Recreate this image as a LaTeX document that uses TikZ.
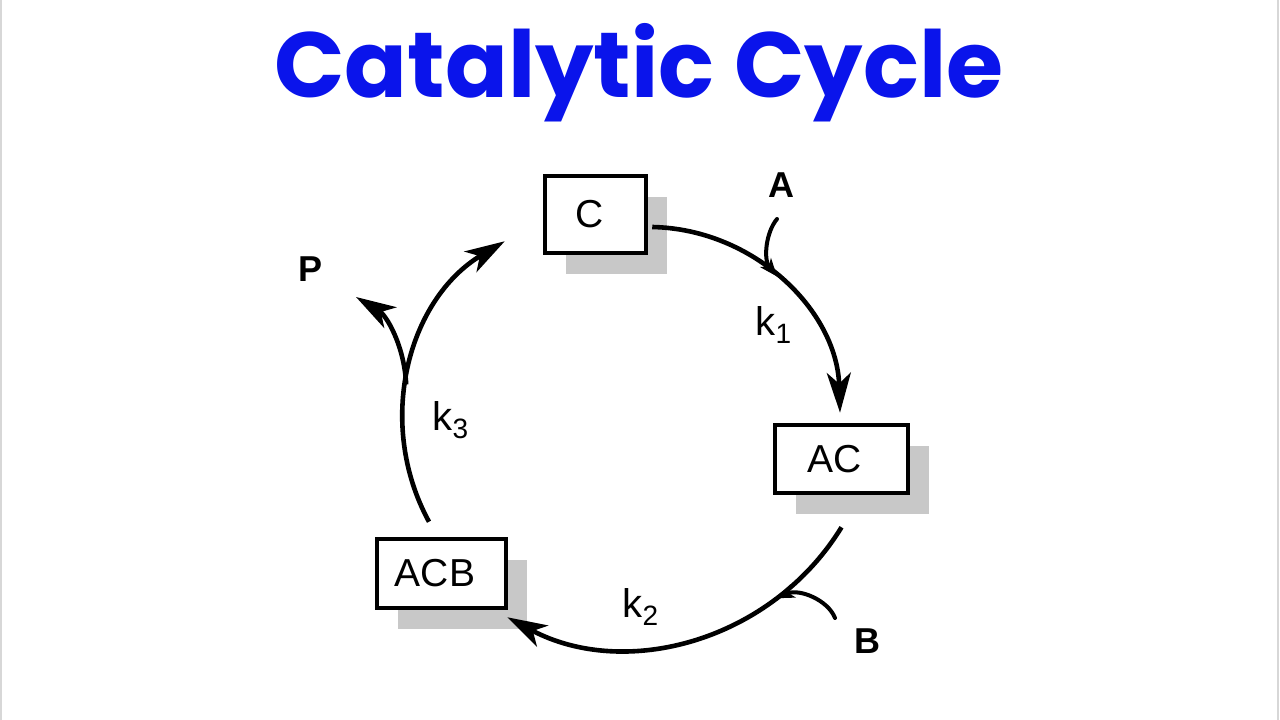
\documentclass[tikz,border=0pt]{standalone}
\usepackage{fontspec}
\setmainfont{Liberation Sans}
\newfontfamily\titlefont{Poppins}
\usetikzlibrary{arrows.meta,shadows}
\definecolor{titleblue}{RGB}{10,20,235}
\definecolor{shadowgray}{RGB}{200,200,200}
\definecolor{edgegray}{RGB}{215,215,215}
\begin{document}
\begin{tikzpicture}[x=1pt,y=-1pt,
  species/.style={draw, line width=4.5pt, fill=white, inner sep=0pt,
    font=\fontsize{39}{39}\selectfont,
    drop shadow={shadow xshift=21pt, shadow yshift=-21pt, fill=shadowgray, opacity=1}},
  reagent/.style={inner sep=0pt, font=\bfseries\fontsize{36}{36}\selectfont},
  rate/.style={inner sep=0pt, anchor=base west, font=\fontsize{40}{40}\selectfont},
  cyc/.style={line width=4.6pt, -{Stealth[length=40pt,width=24pt,inset=11pt]}},
  feed/.style={line width=4pt, line cap=round, -{Stealth[length=18pt,width=14pt,inset=5pt]}},
  frame/.style={edgegray, line width=1.5pt}
]
\useasboundingbox (0,0) rectangle (1280,720);
\fill[white] (0,0) rectangle (1280,720);
\draw[frame] (0.75,0) -- (0.75,720);
\draw[frame] (1278,0) -- (1278,720);

% title
\node[anchor=base, text=titleblue, inner sep=0pt,
  font=\titlefont\bfseries\fontsize{92.5}{92.5}\selectfont] (title) at (639,97) {Catalytic Cycle};

% species boxes
\node[species, minimum width=101pt, minimum height=77pt] (C) at (595.5,214.5) {\hspace*{-11pt}C};
\node[species, minimum width=133pt, minimum height=68pt] (AC) at (841.5,459) {\hspace*{-13pt}AC};
\node[species, minimum width=129pt, minimum height=69pt] (ACB) at (441.5,573.5) {\hspace*{-13pt}ACB};

% reagents / product
\node[reagent] (A) at (781,185) {A};
\node[reagent] (B) at (867,641) {B};
\node[reagent] (P) at (311,269) {P};

% rate constants
\node[rate] (k1) at (755.5,335) {k\raisebox{-8pt}{\fontsize{28}{28}\selectfont 1}};
\node[rate] (k2) at (622.5,617) {k\raisebox{-8pt}{\fontsize{28}{28}\selectfont 2}};
\node[rate] (k3) at (432.5,430) {k\raisebox{-8pt}{\fontsize{28}{28}\selectfont 3}};

% cycle arcs
\draw[cyc] ([shift={(4,12.5)}]C.east) .. controls +(102,2) and +(-3,-102) ..
  ([shift={(-1.5,-10)}]AC.north) coordinate[pos=0.47] (j1);
\draw[cyc] ([shift={(0,32)}]AC.south) .. controls +(-70,114) and +(118,63) ..
  ([shift={(-1,7)}]ACB.south east) coordinate[pos=0.25] (j2);
\draw[cyc] ([shift={(-12.5,-15)}]ACB.north) .. controls +(-54,-99) and +(-97,58) ..
  ([shift={(-38,-14)}]C.south west) coordinate[pos=0.44] (j3);

% branches
\draw[cyc] (j3) .. controls +(-2,-40) and +(30,18) .. ([shift={(45,28)}]P.center);
\draw[feed] ([shift={(-4,34)}]A.center) .. controls +(-11,13) and +(-14,-17) .. (j1);
\draw[feed] ([shift={(-32,-23)}]B.center) .. controls +(-7,-18) and +(23,-10) .. (j2);
\end{tikzpicture}
\end{document}
